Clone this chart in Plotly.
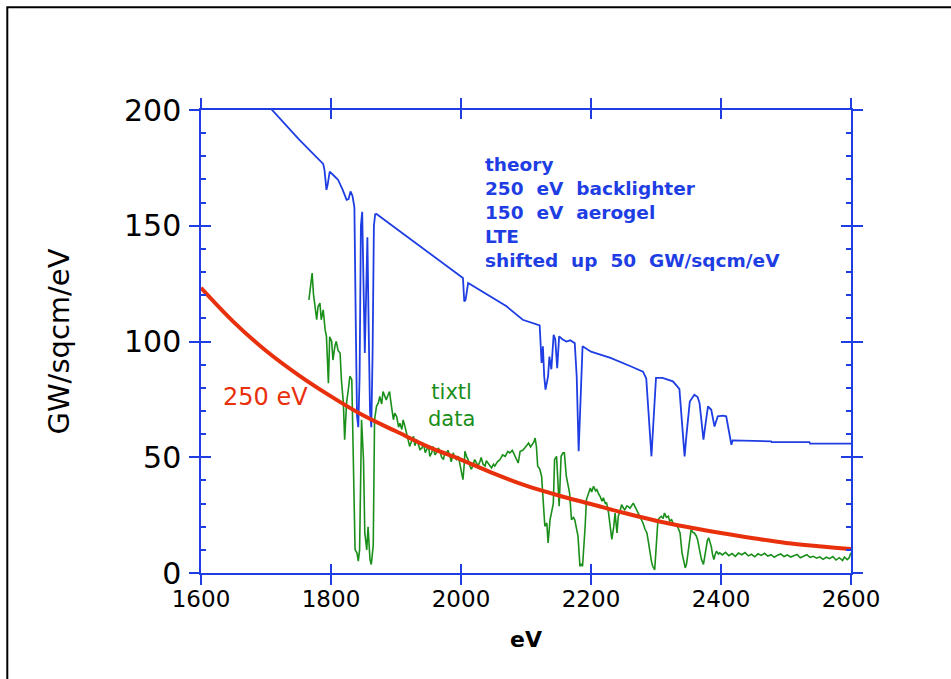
import plotly.graph_objects as go

# ---------------- data ----------------
red_x = [1600, 1650, 1700, 1750, 1800, 1850, 1900, 1950, 2000, 2050, 2100,
         2150, 2200, 2250, 2300, 2350, 2400, 2450, 2500, 2550, 2600]
red_y = [123.2, 108.5, 96.0, 85.5, 76.3, 68.0, 61.2, 54.5, 49.0, 43.0, 37.7,
         33.5, 29.8, 26.0, 22.6, 19.8, 17.3, 15.0, 13.0, 11.6, 10.4]

theory_x = [1690, 1710, 1730, 1750, 1770, 1788, 1790, 1793, 1795, 1798, 1805, 1811,
            1818, 1824, 1827, 1830, 1833, 1836, 1838, 1840, 1842, 1844, 1846, 1848,
            1850, 1852, 1854, 1856, 1858, 1860, 1862, 1864, 1866, 1868, 1870, 1900,
            1930, 1960, 1990, 2003, 2005, 2007, 2011, 2030, 2050, 2070, 2095, 2118,
            2121, 2124, 2126, 2128, 2130, 2134, 2136, 2139, 2142.5, 2145, 2148, 2151,
            2156, 2162, 2168, 2175, 2178, 2181, 2184, 2187, 2200, 2230, 2260, 2280,
            2285, 2290, 2293, 2296, 2300, 2310, 2326, 2336, 2340, 2344, 2347, 2352,
            2359, 2364, 2367, 2373, 2377, 2380, 2385, 2390, 2395, 2403, 2408, 2412,
            2416, 2418, 2477, 2478, 2536, 2537, 2600]
theory_y = [206, 199.7, 193.5, 187.5, 181.8, 176.7, 174, 165.5, 168, 173.4, 171.5, 169.8,
            165.5, 161.2, 161.5, 164.8, 163, 158, 110, 68, 63, 85, 150, 156,
            125, 95, 120, 145, 105, 70, 63, 95, 150, 155, 155.1, 148.8,
            142.5, 136.3, 130, 127.4, 117.3, 118, 125.3, 122, 118.7, 115.2, 109.4, 107.5,
            107, 90.7, 97.9, 85, 79.2, 85, 93.5, 88, 102.9, 101, 88.5, 102.2,
            101, 100, 100.5, 99.3, 85, 52.6, 80, 97.9, 95.6, 92.9, 89.4, 87,
            84, 62, 50.4, 65, 84.3, 84.3, 82.8, 79.5, 65, 50.4, 60, 74.1,
            77, 76, 73.4, 57.6, 66, 72, 70.5, 63.3, 67.7, 68, 67.7, 62,
            55.4, 57.3, 56.9, 56.5, 56.5, 55.9, 55.9]

data_x = [1766, 1769, 1771, 1773, 1775, 1778, 1780, 1783, 1785, 1788, 1791, 1793,
          1796, 1798, 1801, 1803, 1806, 1808, 1811, 1814, 1816, 1819, 1821, 1824,
          1827, 1829, 1832, 1834, 1836, 1837, 1840, 1842, 1844, 1845, 1847, 1850,
          1852, 1855, 1857, 1860, 1862, 1865, 1866, 1867, 1870, 1873, 1875, 1878,
          1880, 1883, 1885, 1888, 1890, 1893, 1896, 1898, 1901, 1904, 1906, 1909,
          1911, 1914, 1916, 1919, 1921, 1924, 1927, 1929, 1932, 1935, 1937, 1940,
          1942, 1945, 1947, 1950, 1952, 1955, 1957, 1960, 1962, 1965, 1968, 1970,
          1973, 1975, 1978, 1980, 1983, 1985, 1988, 1990, 1993, 1996, 1998, 2001,
          2003, 2005, 2006, 2009, 2011, 2014, 2016, 2019, 2021, 2024, 2026, 2029,
          2031, 2034, 2037, 2039, 2042, 2045, 2047, 2050, 2052, 2056, 2060, 2064,
          2068, 2072, 2075, 2079, 2083, 2086, 2088, 2091, 2095, 2098, 2101, 2104,
          2107, 2109, 2112, 2114, 2116, 2118, 2121, 2124, 2126, 2129, 2132, 2134,
          2137, 2139, 2142, 2144, 2147, 2149, 2151, 2154, 2157, 2159, 2162, 2165,
          2167, 2170, 2173, 2175, 2178, 2180, 2183, 2185, 2187, 2189, 2191, 2193,
          2196, 2199, 2201, 2204, 2207, 2209, 2212, 2214, 2217, 2219, 2222, 2224,
          2227, 2229, 2232, 2235, 2237, 2240, 2242, 2245, 2247, 2250, 2252, 2255,
          2257, 2260, 2263, 2265, 2268, 2270, 2273, 2275, 2278, 2280, 2283, 2286,
          2288, 2290, 2293, 2295, 2298, 2300, 2303, 2306, 2308, 2311, 2313, 2316,
          2319, 2321, 2324, 2327, 2331, 2334, 2337, 2340, 2343, 2345, 2347, 2349,
          2352, 2354, 2357, 2359, 2362, 2364, 2367, 2370, 2373, 2375, 2377, 2379,
          2381, 2383, 2385, 2387, 2389, 2391, 2393, 2396, 2398, 2402, 2407, 2412,
          2417, 2422, 2427, 2432, 2437, 2442, 2447, 2452, 2457, 2462, 2467, 2472,
          2477, 2482, 2487, 2492, 2497, 2502, 2507, 2512, 2517, 2522, 2527, 2532,
          2537, 2542, 2547, 2552, 2557, 2562, 2567, 2572, 2577, 2582, 2587, 2590,
          2594, 2597, 2600]
data_y = [118, 126, 129.6, 120.6, 116.6, 109.4, 115, 116.6, 109.4, 113.7, 105, 102.2,
          82, 102, 100, 92, 98, 100, 96, 95, 83.5, 73.6, 57.6, 73.6,
          80, 85, 83.5, 59, 25, 10.1, 8.6, 5.1, 10, 40, 66.2, 49,
          17.3, 10, 20, 5.8, 3.7, 12, 40, 66.2, 72, 73.6, 76.3, 73,
          78.4, 76, 74.8, 77, 78.4, 72.1, 66.2, 69, 67.6, 63, 64.7, 62,
          66.1, 63, 60.5, 58, 54.7, 57, 59, 55, 57.6, 55, 53.3, 54,
          56.2, 52, 53.3, 55, 50.4, 52, 54.7, 51, 51.9, 54, 52.6, 50,
          49, 52, 51.9, 53, 50.4, 48, 51.9, 50, 49, 50.5, 47.5, 44,
          40.3, 47, 52.6, 50, 49, 46, 44.8, 47, 49, 47.5, 46.2, 48,
          49.9, 47, 46.2, 48.5, 47.5, 46.5, 45.4, 47, 46.2, 48, 49, 51,
          50.4, 52.5, 51.9, 53, 50.4, 49, 47.5, 52.6, 53, 54, 55, 56.2,
          54.5, 55.5, 56.5, 58.3, 54.7, 46.1, 45, 41.8, 32, 20.2, 21.6, 13,
          23, 26, 30, 49, 50.4, 40, 28.8, 50.4, 51.9, 51.9, 41.8, 37.5,
          34.6, 23, 24, 23, 19, 15.9, 2.9, 4, 2.9, 10, 20.2, 31.7,
          34, 36.7, 35, 37.5, 35.5, 36, 34, 33.1, 31, 32.5, 30, 30.2,
          26, 20.2, 14.5, 20, 25.9, 17.3, 24.5, 27, 29.5, 28, 27.3, 29,
          28.8, 28, 29.5, 30.2, 28.5, 27.3, 26, 24.5, 23, 21.6, 19, 17.3,
          14, 10.1, 5, 2.9, 1.4, 10, 23, 24, 24.5, 23.5, 25.9, 24,
          24.5, 22.5, 23, 21, 20.9, 19.5, 17.3, 8.7, 4, 2.2, 4, 8.7,
          15, 18.7, 17.5, 17.3, 16, 14.4, 10, 5.8, 3.7, 7, 11.6, 14,
          15.2, 13.5, 11.5, 8, 5.8, 8, 9.4, 8.2, 8.7, 7.8, 8.9, 7.5,
          8.4, 7.2, 8.6, 7.9, 8.8, 7.4, 8.1, 7.0, 8.3, 7.6, 8.5, 7.3,
          7.9, 6.8, 7.7, 8.2, 7.1, 7.8, 6.9, 7.5, 8.0, 6.6, 7.4, 7.9,
          6.8, 7.2, 6.4, 7.0, 5.9, 6.8, 6.2, 7.1, 5.6, 6.6, 5.4, 6.9,
          5.8, 6.5, 8.7]

x_ticks = [1600, 1800, 2000, 2200, 2400, 2600]
y_ticks = [0, 50, 100, 150, 200]

# ---------------- style ----------------
BLUE = "#1e3ee4"
GREEN = "#1a8f1a"
RED = "#e8300c"
FONT = "DejaVu Sans"
NB = "\u00a0"

fig = go.Figure()
fig.add_trace(go.Scatter(x=theory_x, y=theory_y, mode="lines",
                         line=dict(color=BLUE, width=1.8), hoverinfo="skip"))
fig.add_trace(go.Scatter(x=data_x, y=data_y, mode="lines",
                         line=dict(color=GREEN, width=1.6), hoverinfo="skip"))
fig.add_trace(go.Scatter(x=red_x, y=red_y, mode="lines", line_shape="spline",
                         line=dict(color=RED, width=4), hoverinfo="skip",
                         xaxis="x2", yaxis="y2"))

axis_common = dict(showline=True, linecolor=BLUE, linewidth=1.5, tickcolor=BLUE,
                   tickwidth=1.5, mirror="allticks", showgrid=False, zeroline=False)

fig.update_layout(
    width=951, height=679,
    margin=dict(l=201, r=99.5, t=110, b=105.5),
    paper_bgcolor="white", plot_bgcolor="white",
    showlegend=False,
    font=dict(family=FONT, color="black"),
    xaxis=dict(range=[1600, 2600], tickvals=x_ticks, ticks="outside", ticklen=10,
               ticklabelstandoff=-5,
               tickfont=dict(size=23), title=dict(text="<b>eV</b>", font=dict(size=22), standoff=20),
               **axis_common),
    yaxis=dict(range=[0, 200], tickvals=y_ticks, ticks="outside", ticklen=10,
               ticklabelstandoff=2,
               tickfont=dict(size=30), title=dict(text="GW/sqcm/eV", font=dict(size=29), standoff=46),
               **axis_common),
    xaxis2=dict(range=[1600, 2600], overlaying="x", matches="x", tickvals=x_ticks,
                ticks="inside", ticklen=9, showticklabels=False, **axis_common),
    yaxis2=dict(range=[0, 200], overlaying="y", matches="y", tickvals=y_ticks,
                ticks="inside", ticklen=10, showticklabels=False,
                minor=dict(ticks="inside", ticklen=5, dtick=10, tickcolor=BLUE, tickwidth=1.5),
                **axis_common),
)

blue_text = "<br>".join([
    "theory",
    f"250{NB}{NB}eV{NB}{NB}backlighter",
    f"150{NB}{NB}eV{NB}{NB}aerogel",
    "LTE",
    f"shifted{NB}{NB}up{NB}{NB}50{NB}{NB}GW/sqcm/eV",
])
fig.add_annotation(x=2034, y=182, xref="x", yref="y", text=f"<b>{blue_text}</b>",
                   showarrow=False, xanchor="left", yanchor="top", align="left",
                   font=dict(size=18.5, color=BLUE, family=FONT))
fig.add_annotation(x=1631, y=76.2, xref="x", yref="y", text=f"250{NB}eV",
                   showarrow=False, xanchor="left", yanchor="middle",
                   font=dict(size=24, color=RED, family=FONT))
fig.add_annotation(x=1986, y=72.3, xref="x", yref="y", text="tixtl<br>data",
                   showarrow=False, xanchor="center", yanchor="middle", align="center",
                   font=dict(size=21, color=GREEN, family=FONT))

# outer black frame of the original page
fig.add_shape(type="rect", xref="paper", yref="paper",
              x0=-0.298, x1=1.2, y0=-0.3, y1=1.222,
              line=dict(color="black", width=2), fillcolor="rgba(0,0,0,0)", layer="below")

fig.write_html("out.html")
